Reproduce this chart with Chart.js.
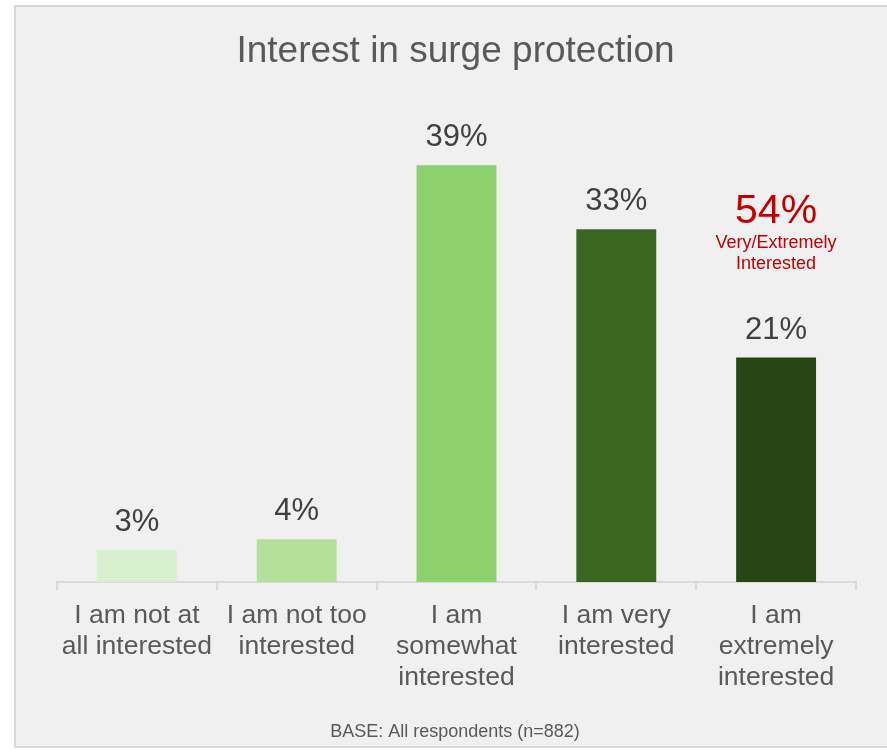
<!DOCTYPE html>
<html>
<head>
<meta charset="utf-8">
<title>Interest in surge protection</title>
<script src="https://cdn.jsdelivr.net/npm/chart.js@4/dist/chart.umd.min.js"></script>
<style>
  html, body { margin: 0; padding: 0; background: #ffffff; }
  #wrap { position: relative; width: 887px; height: 752px; overflow: hidden; }
  #panel {
    position: absolute; left: 14px; top: 5px; width: 890px; height: 739px;
    background: #f0f0f0; border: 2px solid #d9d9d9; border-right: none;
  }
  #chart { position: absolute; left: 0; top: 0; }
</style>
</head>
<body>
<div id="wrap">
  <div id="panel"></div>
  <canvas id="chart" width="887" height="752"></canvas>
</div>
<script>
const FONT = '"Liberation Sans", Arial, Helvetica, sans-serif';

const chartTitle = 'Interest in surge protection';
const footnote = 'BASE: All respondents (n=882)';
const categories = [
  ['I am not at', 'all interested'],
  ['I am not too', 'interested'],
  ['I am', 'somewhat', 'interested'],
  ['I am very', 'interested'],
  ['I am', 'extremely', 'interested']
];
const interestShare = [3, 4, 39, 33, 21];
const barColors = ['#d9f0cf', '#b3e09b', '#8dd16c', '#3a6620', '#264616'];
// top-two-box: "very" + "extremely"
const topBoxIndices = [3, 4];
const topBoxCaption = ['Very/Extremely', 'Interested'];

const overlay = {
  id: 'overlay',
  afterDatasetsDraw(chart) {
    const ctx = chart.ctx;
    const meta = chart.getDatasetMeta(0);
    ctx.save();
    ctx.textAlign = 'center';
    ctx.textBaseline = 'alphabetic';

    // title
    ctx.fillStyle = '#595959';
    ctx.font = '37px ' + FONT;
    ctx.fillText(chartTitle, 455.5, 62);

    // value labels above bars
    ctx.fillStyle = '#404040';
    ctx.font = '31px ' + FONT;
    meta.data.forEach((bar, i) => {
      ctx.fillText(interestShare[i] + '%', bar.x, bar.y - 19);
    });

    // top-two-box callout
    const total = topBoxIndices.reduce((s, i) => s + interestShare[i], 0);
    const last = meta.data[topBoxIndices[topBoxIndices.length - 1]];
    ctx.fillStyle = '#c00000';
    ctx.font = '41px ' + FONT;
    ctx.fillText(total + '%', last.x, 223);
    ctx.font = '18px ' + FONT;
    ctx.fillText(topBoxCaption[0], last.x, 248);
    ctx.fillText(topBoxCaption[1], last.x, 269);

    // footnote
    ctx.fillStyle = '#595959';
    ctx.font = '18px ' + FONT;
    ctx.fillText(footnote, 455, 737);
    ctx.restore();
  }
};

new Chart(document.getElementById('chart'), {
  type: 'bar',
  data: {
    labels: categories,
    datasets: [{
      data: interestShare,
      backgroundColor: barColors,
      borderWidth: 0,
      barPercentage: 0.5,
      categoryPercentage: 1.0
    }]
  },
  options: {
    responsive: false,
    animation: false,
    layout: { padding: { left: 57, right: 31, top: 101, bottom: 0 } },
    plugins: { legend: { display: false }, tooltip: { enabled: false } },
    scales: {
      x: {
        afterFit(scale) { scale.height = 170; },
        border: { display: true, color: '#d9d9d9', width: 2 },
        grid: {
          display: true, offset: true, drawOnChartArea: false,
          drawTicks: true, tickLength: 8, color: '#d9d9d9', lineWidth: 2
        },
        ticks: {
          color: '#595959', padding: 10, maxRotation: 0, autoSkip: false,
          font: { family: FONT, size: 26.5, lineHeight: 31 / 26.5 }
        }
      },
      y: {
        display: false,
        min: 0,
        max: 45
      }
    }
  },
  plugins: [overlay]
});
</script>
</body>
</html>
